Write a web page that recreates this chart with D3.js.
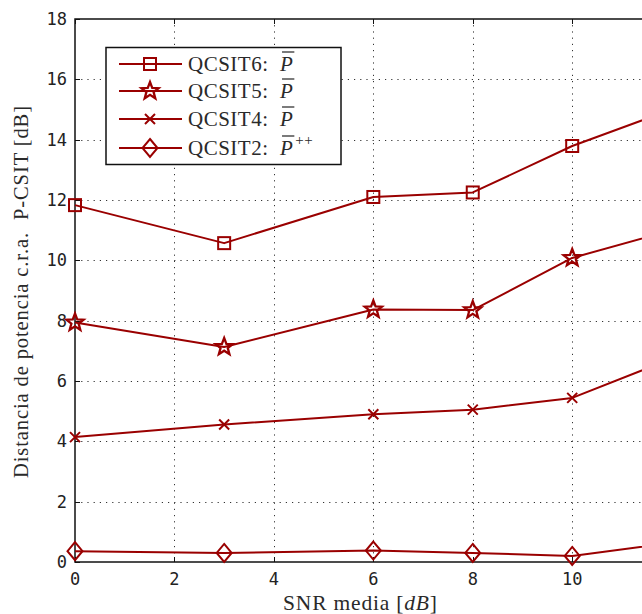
<!DOCTYPE html>
<html>
<head>
<meta charset="utf-8">
<script src="https://cdn.jsdelivr.net/npm/d3@7/dist/d3.min.js"></script>
<style>
  html, body { margin: 0; padding: 0; background: #fff; overflow: hidden; }
  svg { display: block; }
  .tick-label { font-family: "DejaVu Sans Mono", monospace; font-size: 17px; fill: #222; }
  .serif { font-family: "Liberation Serif", "DejaVu Serif", serif; fill: #2a2a2a; }
</style>
</head>
<body>
<svg id="chart" width="642" height="614"></svg>
<script>
// SNR values (dB) on the horizontal axis
const snr = [0, 3, 6, 8, 10, 12];

// Power distance relative to P-CSIT (dB) for each scheme
const qcsit6 = [11.83, 10.57, 12.10, 12.25, 13.79, 15.00];
const qcsit5 = [7.94, 7.13, 8.37, 8.35, 10.08, 11.00];
const qcsit4 = [4.14, 4.56, 4.90, 5.05, 5.44, 6.74];
const qcsit2 = [0.36, 0.30, 0.38, 0.30, 0.20, 0.64];

const seriesNames = ["QCSIT6", "QCSIT5", "QCSIT4", "QCSIT2"];
const seriesSup = ["", "", "", "++"];
const seriesMarkers = ["square", "star", "cross", "diamond"];

const xTicks = [0, 2, 4, 6, 8, 10];
const yTicks = [0, 2, 4, 6, 8, 10, 12, 14, 16, 18];

const color = "#9a0000";
const svg = d3.select("#chart");

const padLeft = 75, padTop = 19, baseY = 562;
const x = d3.scaleLinear().domain([0, 12]).range([padLeft, padLeft + 12 * 49.72]);
const y = d3.scaleLinear().domain([0, 18]).range([baseY, padTop]);
const edgeRight = x(12);

// grid
const grid = svg.append("g").attr("stroke", "#333").attr("stroke-width", 1)
  .attr("stroke-dasharray", "1.2,5");
grid.selectAll(".gy").data(yTicks.filter(d => d > 0 && d < 18)).join("line")
  .attr("x1", padLeft).attr("x2", edgeRight)
  .attr("y1", d => Math.round(y(d)) + 0.5).attr("y2", d => Math.round(y(d)) + 0.5);
grid.selectAll(".gx").data(xTicks.filter(d => d > 0)).join("line")
  .attr("y1", padTop).attr("y2", baseY)
  .attr("x1", d => Math.round(x(d)) + 0.5).attr("x2", d => Math.round(x(d)) + 0.5);

// axes frame
svg.append("rect").attr("x", padLeft).attr("y", padTop)
  .attr("width", edgeRight - padLeft).attr("height", baseY - padTop)
  .attr("stroke", "#111").attr("stroke-width", 1.5).attr("fill", "none");

// inner tick marks
const ticks = svg.append("g").attr("stroke", "#111").attr("stroke-width", 1);
ticks.selectAll(".tx").data(xTicks).join("line")
  .attr("x1", d => Math.round(x(d)) + 0.5).attr("x2", d => Math.round(x(d)) + 0.5)
  .attr("y1", baseY).attr("y2", baseY - 5);
ticks.selectAll(".tx2").data(xTicks).join("line")
  .attr("x1", d => Math.round(x(d)) + 0.5).attr("x2", d => Math.round(x(d)) + 0.5)
  .attr("y1", padTop).attr("y2", padTop + 5);
ticks.selectAll(".ty").data(yTicks).join("line")
  .attr("x1", padLeft).attr("x2", padLeft + 5)
  .attr("y1", d => Math.round(y(d)) + 0.5).attr("y2", d => Math.round(y(d)) + 0.5);

// tick labels
svg.append("g").selectAll("text").data(yTicks).join("text")
  .attr("class", "tick-label")
  .attr("x", padLeft - 8).attr("y", d => y(d)).attr("dy", "0.36em")
  .attr("text-anchor", "end").text(d => d);
svg.append("g").selectAll("text").data(xTicks).join("text")
  .attr("class", "tick-label")
  .attr("x", d => x(d)).attr("y", baseY + 23)
  .attr("text-anchor", "middle").text(d => d);

// axis titles
const xl = svg.append("text").attr("class", "serif").attr("font-size", 21.5)
  .attr("x", 360).attr("y", 610).attr("text-anchor", "middle")
  .attr("textLength", 154).attr("lengthAdjust", "spacing");
xl.append("tspan").text("SNR media [");
xl.append("tspan").attr("font-style", "italic").text("dB");
xl.append("tspan").text("]");

svg.append("text").attr("class", "serif").attr("font-size", 20.5)
  .attr("transform", "translate(28,292) rotate(-90)")
  .attr("text-anchor", "middle")
  .attr("xml:space", "preserve")
  .attr("textLength", 372).attr("lengthAdjust", "spacing")
  .text("Distancia de potencia c.r.a.  P-CSIT [dB]");

// five-pointed star outline
function starPath(R, r) {
  const pts = [];
  for (let i = 0; i < 10; i++) {
    const a = -Math.PI / 2 + i * Math.PI / 5;
    const rad = i % 2 === 0 ? R : r;
    pts.push([rad * Math.cos(a), rad * Math.sin(a)]);
  }
  return "M" + pts.map(p => p[0].toFixed(2) + "," + p[1].toFixed(2)).join("L") + "Z";
}

// marker shapes
function drawMarker(g, type) {
  if (type === "square") {
    g.append("rect").attr("x", -6).attr("y", -6).attr("width", 12).attr("height", 12)
      .attr("fill", "none").attr("stroke", color).attr("stroke-width", 2);
  } else if (type === "star") {
    g.append("path").attr("d", starPath(9, 3.8))
      .attr("fill", "none").attr("stroke", color).attr("stroke-width", 2.3)
      .attr("stroke-linejoin", "miter");
  } else if (type === "cross") {
    g.append("path").attr("d", "M-5,-5L5,5M-5,5L5,-5")
      .attr("fill", "none").attr("stroke", color).attr("stroke-width", 2);
  } else if (type === "diamond") {
    g.append("path").attr("d", "M0,-9L7.5,0L0,9L-7.5,0Z")
      .attr("fill", "none").attr("stroke", color).attr("stroke-width", 2);
  }
}

const allSeries = [qcsit6, qcsit5, qcsit4, qcsit2];
const line = d3.line().x((d, i) => x(snr[i])).y(d => y(d));
const plot = svg.append("g");
allSeries.forEach((vals, k) => {
  plot.append("path").datum(vals).attr("d", line)
    .attr("fill", "none").attr("stroke", color).attr("stroke-width", 2)
    .attr("stroke-linejoin", "round");
  vals.forEach((v, i) => {
    const g = plot.append("g").attr("transform", `translate(${x(snr[i])},${y(v)})`);
    drawMarker(g, seriesMarkers[k]);
  });
});

// legend
const lg = svg.append("g");
lg.append("rect").attr("x", 106).attr("y", 47.5).attr("width", 235).attr("height", 117)
  .attr("fill", "#fff").attr("stroke", "#111").attr("stroke-width", 1.5);
const ly = [64, 91, 119, 148];
seriesNames.forEach((name, k) => {
  const row = lg.append("g").attr("transform", `translate(0,${ly[k]})`);
  row.append("line").attr("x1", 119).attr("x2", 182).attr("y1", 0).attr("y2", 0)
    .attr("stroke", color).attr("stroke-width", 2);
  const m = row.append("g").attr("transform", "translate(150,0)");
  drawMarker(m, seriesMarkers[k]);
  const t = row.append("text").attr("class", "serif").attr("font-size", 21)
    .attr("x", 188).attr("y", 7).attr("xml:space", "preserve")
    .attr("letter-spacing", 0.5);
  t.append("tspan").text(name + ":  ");
  t.append("tspan").attr("font-style", "italic").text("P");
  if (seriesSup[k]) {
    t.append("tspan").attr("font-size", 15).attr("dy", -10).attr("dx", 2).text(seriesSup[k]);
  }
  // bar over the italic P
  const node = t.node();
  const idx = (name + ":  ").length;
  const ext = node.getExtentOfChar(idx);
  row.append("line")
    .attr("x1", ext.x + 2).attr("x2", ext.x + ext.width + 1)
    .attr("y1", -12).attr("y2", -12)
    .attr("stroke", "#222").attr("stroke-width", 1.2);
});
</script>
</body>
</html>
